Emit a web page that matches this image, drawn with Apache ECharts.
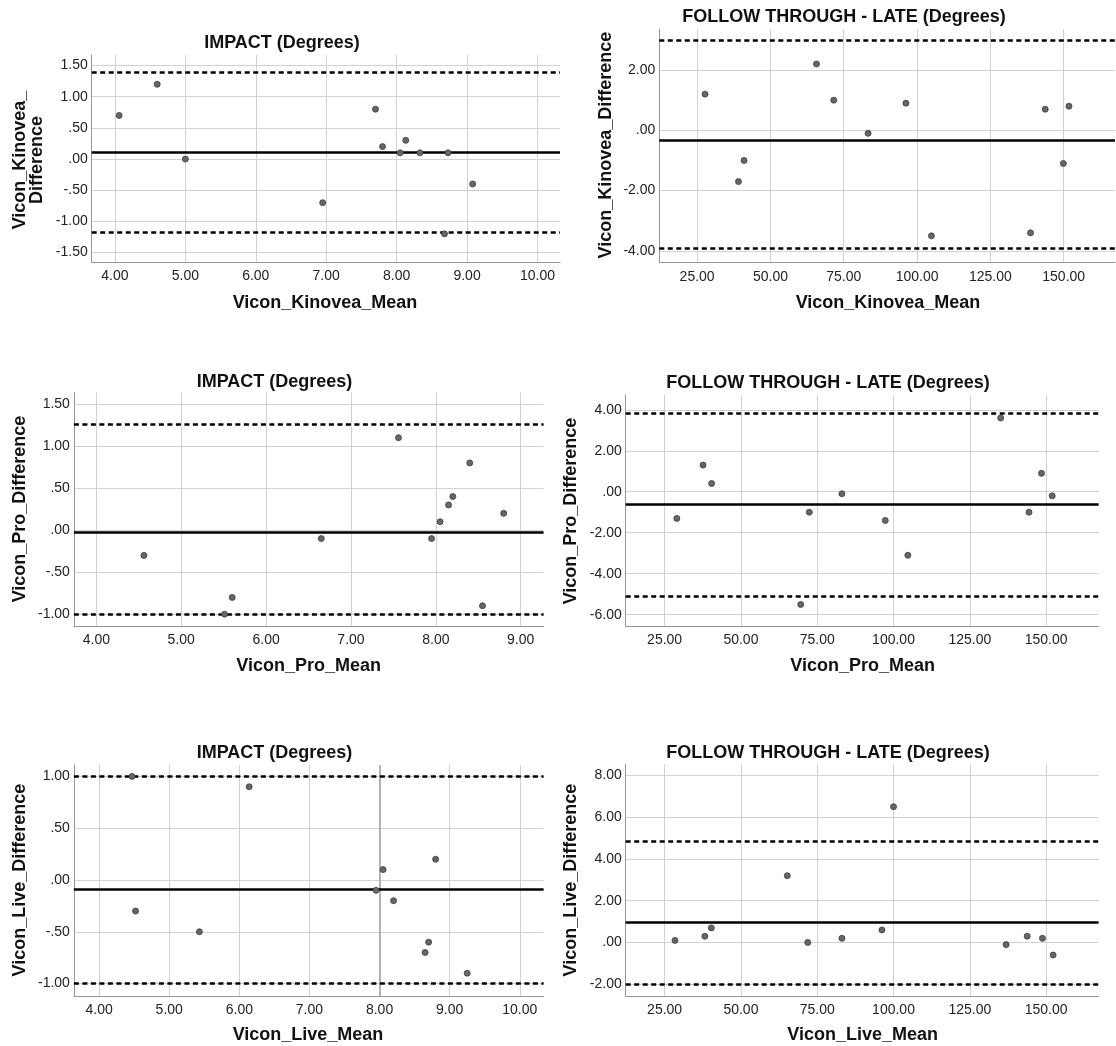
<!DOCTYPE html>
<html>
<head>
<meta charset="utf-8">
<script src="https://cdn.jsdelivr.net/npm/echarts@6/dist/echarts.min.js"></script>
<style>
  html, body { margin: 0; padding: 0; background: #fff; }
  #chart { width: 1116px; height: 1046px; }
</style>
</head>
<body>
<div id="chart"></div>
<script>
// ---------------- DATA ----------------
// Panel 1: IMPACT, Vicon vs Kinovea
const p1Mean = [4.06, 4.6, 5.0, 6.95, 7.7, 7.8, 8.05, 8.13, 8.33, 8.73, 9.08, 8.68];
const p1Diff = [0.7, 1.2, 0.0, -0.7, 0.8, 0.2, 0.1, 0.3, 0.1, 0.1, -0.4, -1.2];
const p1Lines = [0.11, 1.39, -1.18]; // mean, upper LoA, lower LoA
const p1XTicks = [4, 5, 6, 7, 8, 9, 10];
const p1YTicks = [-1.5, -1.0, -0.5, 0, 0.5, 1.0, 1.5];

// Panel 2: FOLLOW THROUGH - LATE, Vicon vs Kinovea
const p2Mean = [27.7, 39.1, 41.0, 65.7, 71.6, 83.3, 96.2, 104.9, 138.7, 143.7, 149.9, 151.8];
const p2Diff = [1.2, -1.7, -1.0, 2.2, 1.0, -0.1, 0.9, -3.5, -3.4, 0.7, -1.1, 0.8];
const p2Lines = [-0.33, 2.98, -3.91];
const p2XTicks = [25, 50, 75, 100, 125, 150];
const p2YTicks = [-4, -2, 0, 2];

// Panel 3: IMPACT, Vicon vs Pro
const p3Mean = [4.56, 5.51, 5.6, 6.65, 7.56, 7.95, 8.05, 8.15, 8.2, 8.4, 8.55, 8.8];
const p3Diff = [-0.3, -1.0, -0.8, -0.1, 1.1, -0.1, 0.1, 0.3, 0.4, 0.8, -0.9, 0.2];
const p3Lines = [-0.03, 1.26, -1.0];
const p3XTicks = [4, 5, 6, 7, 8, 9];
const p3YTicks = [-1.0, -0.5, 0, 0.5, 1.0, 1.5];

// Panel 4: FOLLOW THROUGH - LATE, Vicon vs Pro
const p4Mean = [29.0, 37.6, 40.4, 69.6, 72.4, 83.1, 97.3, 104.7, 135.1, 144.4, 148.5, 152.0];
const p4Diff = [-1.3, 1.3, 0.4, -5.5, -1.0, -0.1, -1.4, -3.1, 3.6, -1.0, 0.9, -0.2];
const p4Lines = [-0.62, 3.85, -5.09];
const p4XTicks = [25, 50, 75, 100, 125, 150];
const p4YTicks = [-6, -4, -2, 0, 2, 4];

// Panel 5: IMPACT, Vicon vs Live
const p5Mean = [4.47, 4.52, 5.43, 6.14, 7.95, 8.05, 8.2, 8.65, 8.7, 8.8, 9.25];
const p5Diff = [1.0, -0.3, -0.5, 0.9, -0.1, 0.1, -0.2, -0.7, -0.6, 0.2, -0.9];
const p5Lines = [-0.09, 1.0, -1.0];
const p5XTicks = [4, 5, 6, 7, 8, 9, 10];
const p5YTicks = [-1.0, -0.5, 0, 0.5, 1.0];
const p5RefX = 8;

// Panel 6: FOLLOW THROUGH - LATE, Vicon vs Live
const p6Mean = [28.4, 38.2, 40.3, 65.2, 71.9, 83.1, 96.2, 100.0, 136.9, 143.8, 148.8, 152.3];
const p6Diff = [0.1, 0.3, 0.7, 3.2, 0.0, 0.2, 0.6, 6.5, -0.1, 0.3, 0.2, -0.6];
const p6Lines = [0.96, 4.83, -2.0];
const p6XTicks = [25, 50, 75, 100, 125, 150];
const p6YTicks = [-2, 0, 2, 4, 6, 8];

const titles = ['IMPACT (Degrees)', 'FOLLOW THROUGH - LATE (Degrees)',
                'IMPACT (Degrees)', 'FOLLOW THROUGH - LATE (Degrees)',
                'IMPACT (Degrees)', 'FOLLOW THROUGH - LATE (Degrees)'];
const xNames = ['Vicon_Kinovea_Mean', 'Vicon_Kinovea_Mean', 'Vicon_Pro_Mean', 'Vicon_Pro_Mean',
                'Vicon_Live_Mean', 'Vicon_Live_Mean'];
const yNames = ['Vicon_Kinovea_\nDifference', 'Vicon_Kinovea_Difference', 'Vicon_Pro_Difference',
                'Vicon_Pro_Difference', 'Vicon_Live_Difference', 'Vicon_Live_Difference'];

// ---------------- LAYOUT ----------------
const panels = [
  { mean: p1Mean, diff: p1Diff, lines: p1Lines, xt: p1XTicks, yt: p1YTicks,
    grid: { left: 91.7, top: 55, width: 468.3, height: 207.5 }, xr: [3.67, 10.32], yr: [-1.66, 1.67],
    title: [282, 43], xname: [325, 303], yname: [29, 160] },
  { mean: p2Mean, diff: p2Diff, lines: p2Lines, xt: p2XTicks, yt: p2YTicks,
    grid: { left: 659.3, top: 29.3, width: 455.7, height: 233.4 }, xr: [12.1, 167.5], yr: [-4.39, 3.35],
    title: [844, 17], xname: [888, 303], yname: [606.4, 145] },
  { mean: p3Mean, diff: p3Diff, lines: p3Lines, xt: p3XTicks, yt: p3YTicks,
    grid: { left: 73.9, top: 392.3, width: 469.7, height: 233.7 }, xr: [3.735, 9.27], yr: [-1.14, 1.64],
    title: [274.5, 382], xname: [308.6, 666], yname: [20.4, 509] },
  { mean: p4Mean, diff: p4Diff, lines: p4Lines, xt: p4XTicks, yt: p4YTicks,
    grid: { left: 625.7, top: 395, width: 472.9, height: 231 }, xr: [12.25, 167.2], yr: [-6.55, 4.72],
    title: [828, 383], xname: [862.7, 666], yname: [570.7, 511] },
  { mean: p5Mean, diff: p5Diff, lines: p5Lines, xt: p5XTicks, yt: p5YTicks, refX: p5RefX,
    grid: { left: 73.9, top: 765, width: 469.7, height: 231 }, xr: [3.64, 10.34], yr: [-1.12, 1.11],
    title: [274.5, 753], xname: [308, 1035], yname: [20.4, 880] },
  { mean: p6Mean, diff: p6Diff, lines: p6Lines, xt: p6XTicks, yt: p6YTicks,
    grid: { left: 625.7, top: 764.3, width: 472.9, height: 231.7 }, xr: [12.25, 167.2], yr: [-2.56, 8.53],
    title: [828, 753], xname: [862.7, 1035], yname: [570.7, 880] }
];

const FONT = '"Liberation Sans", Arial, Helvetica, sans-serif';
const GRID_COLOR = '#d2d2d2';
const AXIS_COLOR = '#959595';
const LABEL_COLOR = '#222222';

function spss(v) {
  let s = Math.abs(v).toFixed(2);
  if (s.charAt(0) === '0') s = s.slice(1);
  return (v < 0 ? '-' : '') + s;
}

const grids = [], xAxes = [], yAxes = [], series = [], graphics = [];

panels.forEach((p, i) => {
  grids.push(Object.assign({ containLabel: false }, p.grid));
  xAxes.push({
    type: 'value', gridIndex: i, min: p.xr[0], max: p.xr[1],
    axisLine: { show: true, onZero: false, lineStyle: { color: AXIS_COLOR, width: 1 } },
    axisTick: { show: false, customValues: p.xt },
    axisLabel: { customValues: p.xt, formatter: spss, color: LABEL_COLOR, fontSize: 14,
                 fontFamily: FONT, margin: 7 },
    splitLine: { show: true, lineStyle: { color: GRID_COLOR, width: 1 } }
  });
  yAxes.push({
    type: 'value', gridIndex: i, min: p.yr[0], max: p.yr[1],
    axisLine: { show: true, onZero: false, lineStyle: { color: AXIS_COLOR, width: 1 } },
    axisTick: { show: false, customValues: p.yt },
    axisLabel: { customValues: p.yt, formatter: spss, color: LABEL_COLOR, fontSize: 14,
                 fontFamily: FONT, margin: 4 },
    splitLine: { show: true, lineStyle: { color: GRID_COLOR, width: 1 } }
  });
  const mlData = [
    { yAxis: p.lines[0], lineStyle: { color: '#000', width: 2.5, type: 'solid' } },
    { yAxis: p.lines[1], lineStyle: { color: '#000', width: 2.5, type: [5, 3.5] } },
    { yAxis: p.lines[2], lineStyle: { color: '#000', width: 2.5, type: [5, 3.5] } }
  ];
  if (p.refX !== undefined) {
    mlData.unshift({ xAxis: p.refX, lineStyle: { color: '#a6a6a6', width: 1.6, type: 'solid' } });
  }
  series.push({
    type: 'scatter', xAxisIndex: i, yAxisIndex: i,
    data: p.mean.map((m, k) => [m, p.diff[k]]),
    symbol: 'circle', symbolSize: 6,
    itemStyle: { color: '#666666', borderColor: '#3c3c3c', borderWidth: 0.8, opacity: 1 },
    z: 3,
    markLine: { silent: true, symbol: 'none', label: { show: false }, animation: false,
                emphasis: { disabled: true }, data: mlData, z: 2 }
  });
  graphics.push({
    type: 'text', x: p.title[0], y: p.title[1], silent: true,
    style: { text: titles[i], fill: '#111', font: 'bold 18px ' + FONT,
             textAlign: 'center', textVerticalAlign: 'middle' }
  });
  graphics.push({
    type: 'text', x: p.xname[0], y: p.xname[1], silent: true,
    style: { text: xNames[i], fill: '#111', font: 'bold 18px ' + FONT,
             textAlign: 'center', textVerticalAlign: 'middle' }
  });
  graphics.push({
    type: 'text', x: p.yname[0], y: p.yname[1], rotation: Math.PI / 2, silent: true,
    style: { text: yNames[i], fill: '#111', font: 'bold 18px ' + FONT, lineHeight: 17,
             textAlign: 'center', textVerticalAlign: 'middle' }
  });
});

const chart = echarts.init(document.getElementById('chart'), null, { renderer: 'canvas' });
chart.setOption({
  animation: false,
  backgroundColor: '#ffffff',
  grid: grids,
  xAxis: xAxes,
  yAxis: yAxes,
  series: series,
  graphic: graphics
});
</script>
</body>
</html>
